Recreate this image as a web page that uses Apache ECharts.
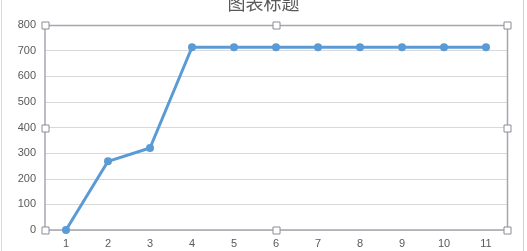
<!DOCTYPE html>
<html>
<head>
<meta charset="utf-8">
<script src="https://cdn.jsdelivr.net/npm/echarts@6/dist/echarts.min.js"></script>
<style>
  html, body { margin: 0; padding: 0; background: #fff; }
  #chart { width: 527px; height: 251px; }
</style>
</head>
<body>
<div id="chart"></div>
<script>
const categories = ['1', '2', '3', '4', '5', '6', '7', '8', '9', '10', '11'];
const values = [0, 268, 320, 713, 713, 713, 713, 713, 713, 713, 713];
const yTicks = [0, 100, 200, 300, 400, 500, 600, 700, 800];
const chartTitle = '图表标题';

const G = { left: 45, top: 25, right: 507, bottom: 230 };
const W = 527, H = 251;

const chart = echarts.init(document.getElementById('chart'), null, { renderer: 'canvas' });

// selection handles around the plot area
function handle(x, y) {
  return {
    type: 'rect', z: 100,
    shape: { x: x - 3.5, y: y - 3.5, width: 7, height: 7 },
    style: { fill: '#fff', stroke: '#8c8c96', lineWidth: 1 }
  };
}
const midX = (G.left + G.right) / 2, midY = (G.top + G.bottom) / 2;
const handles = [
  [G.left, G.top], [midX, G.top], [G.right, G.top],
  [G.left, midY], [G.right, midY],
  [G.left, G.bottom], [midX, G.bottom], [G.right, G.bottom]
].map(p => handle(Math.round(p[0]) + 0.5, Math.round(p[1]) + 0.5));

chart.setOption({
  animation: false,
  backgroundColor: '#fff',
  title: {
    text: chartTitle,
    left: 'center',
    top: -11,
    textStyle: { color: '#595959', fontSize: 18, fontWeight: 'normal', fontFamily: 'Noto Sans CJK SC' }
  },
  grid: { left: G.left, top: G.top, right: W - G.right, bottom: H - G.bottom, containLabel: false },
  xAxis: {
    type: 'category',
    data: categories,
    boundaryGap: true,
    axisLine: { lineStyle: { color: '#a6a6ae', width: 1.5 } },
    axisTick: { show: false },
    axisLabel: { color: '#595959', fontSize: 11, margin: 8, fontFamily: 'Liberation Sans' }
  },
  yAxis: {
    type: 'value',
    min: yTicks[0],
    max: yTicks[yTicks.length - 1],
    interval: yTicks[1] - yTicks[0],
    axisLine: { show: true, lineStyle: { color: '#a6a6ae', width: 1.5 } },
    axisTick: { show: false },
    splitLine: { lineStyle: { color: '#d9d9d9', width: 1 } },
    axisLabel: { color: '#595959', fontSize: 11, margin: 9, fontFamily: 'Liberation Sans' }
  },
  series: [{
    type: 'line',
    data: values,
    symbol: 'circle',
    symbolSize: 8,
    lineStyle: { color: '#5b9bd5', width: 3 },
    itemStyle: { color: '#5b9bd5' }
  }],
  graphic: [
    // plot frame (top and right edges)
    { type: 'polyline', z: 90, shape: { points: [[G.left, G.top + 0.5], [G.right + 0.5, G.top + 0.5], [G.right + 0.5, G.bottom]] },
      style: { stroke: '#a6a6ae', lineWidth: 1.5, fill: null } },
    // outer borders
    { type: 'line', shape: { x1: 1.5, y1: 0, x2: 1.5, y2: H }, style: { stroke: '#d9d9d9', lineWidth: 1 } },
    { type: 'line', shape: { x1: 523.5, y1: 0, x2: 523.5, y2: H }, style: { stroke: '#d0d0d0', lineWidth: 1 } },
    ...handles
  ]
});
</script>
</body>
</html>
